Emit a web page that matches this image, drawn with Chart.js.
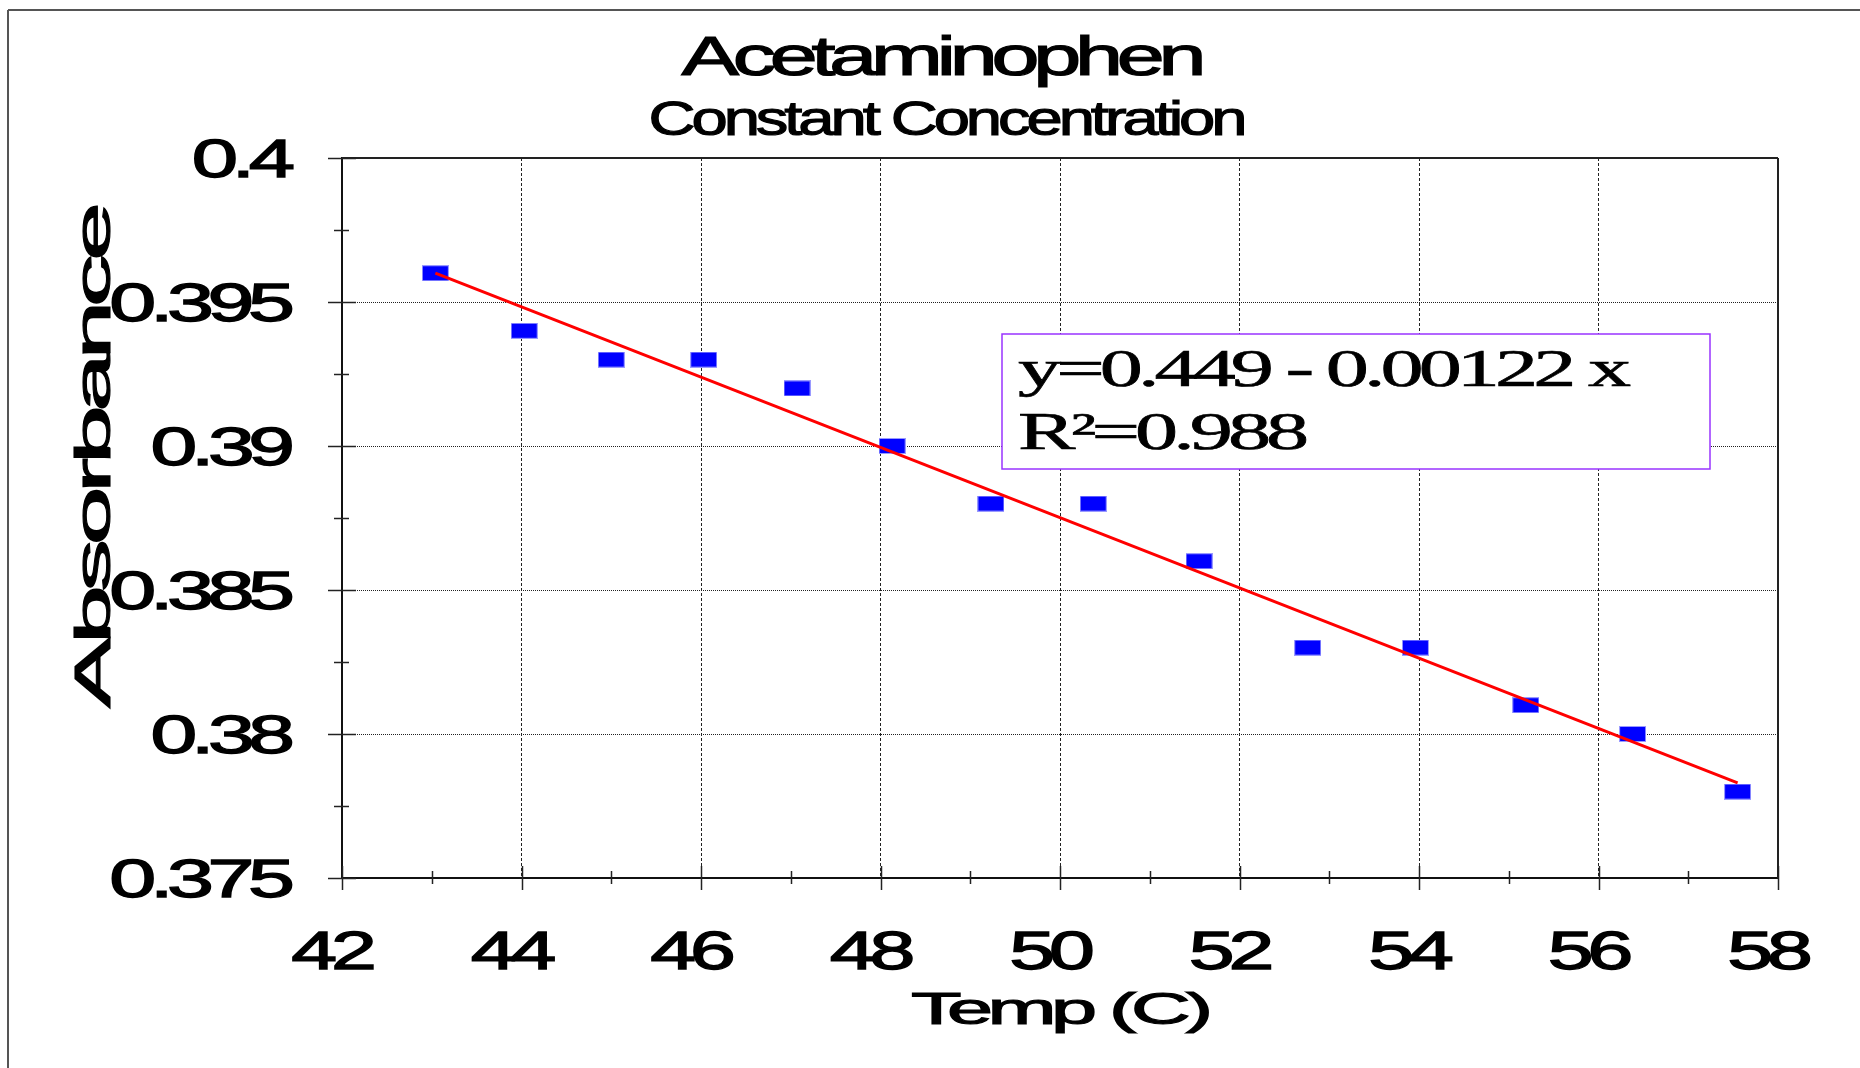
<!DOCTYPE html>
<html>
<head>
<meta charset="utf-8">
<title>Acetaminophen - Constant Concentration</title>
<script src="https://cdn.jsdelivr.net/npm/chart.js@4.4.0/dist/chart.umd.min.js"></script>
<style>
    html, body { margin: 0; padding: 0; background: #fff; }
    canvas { display: block; }
</style>
</head>
<body>
<canvas id="chart" width="1860" height="1068"></canvas>
<script>
// Textos del gráfico
const chartTitle = 'Acetaminophen';
const chartSubtitle = 'Constant Concentration';
const xAxisTitle = 'Temp (C)';
const yAxisTitle = 'Absorbance';

const tempC = [43.04, 44.03, 45.00, 46.03, 47.07, 48.13, 49.23, 50.37, 51.55, 52.76, 53.96, 55.19, 56.38, 57.55];
const absorbance = [0.396, 0.394, 0.393, 0.393, 0.392, 0.390, 0.388, 0.388, 0.386, 0.383, 0.383, 0.381, 0.380, 0.378];

// Recta de regresión: extremos
const fitTemp = [43.04, 57.55];
const fitAbs = [0.3960, 0.3783];
const fitIntercept = '0.449';
const fitSlope = '0.00122';
const rSquared = '0.988';

// Ejes
const xTicks = [42, 44, 46, 48, 50, 52, 54, 56, 58];
const xTickLabels = ['42', '44', '46', '48', '50', '52', '54', '56', '58'];
const xMinorTicks = [43, 45, 47, 49, 51, 53, 55, 57];
const yTicks = [0.375, 0.38, 0.385, 0.39, 0.395, 0.4];
const yTickLabels = ['0.375', '0.38', '0.385', '0.39', '0.395', '0.4'];
const yMinorTicks = [0.3775, 0.3825, 0.3875, 0.3925, 0.3975];

const SANS = '"Liberation Sans", Arial, sans-serif';
const SERIF = '"Liberation Serif", "Times New Roman", serif';

// Marcador rectangular azul
function makeMarker() {
    const c = document.createElement('canvas');
    c.width = 27;
    c.height = 16;
    const g = c.getContext('2d');
    g.fillStyle = '#9a9aff';
    g.fillRect(0, 0, 27, 16);
    g.fillStyle = '#0000ff';
    g.fillRect(1, 1, 25, 14);
    return c;
}

function textWidth(ctx, text, font, spacing) {
    ctx.save();
    ctx.font = font;
    ctx.letterSpacing = spacing + 'px';
    const w = ctx.measureText(text).width - spacing;
    ctx.restore();
    return w;
}

// Texto ancho y apretado como en el original: se escala a un ancho dado
function drawWide(ctx, text, x, y, font, align, width, spacing, weight, rotate) {
    const sx = width / textWidth(ctx, text, font, spacing);
    ctx.save();
    ctx.font = font;
    ctx.letterSpacing = spacing + 'px';
    ctx.textAlign = 'left';
    ctx.textBaseline = 'alphabetic';
    ctx.fillStyle = '#000';
    ctx.strokeStyle = '#000';
    ctx.lineWidth = weight;
    ctx.translate(x, y);
    if (rotate) ctx.rotate(-Math.PI / 2);
    let start = 0;
    if (align === 'center') start = -width / 2;
    if (align === 'right') start = -width;
    ctx.translate(start, 0);
    ctx.scale(sx, 1);
    ctx.fillText(text, 0, 0);
    if (weight > 0) ctx.strokeText(text, 0, 0);
    ctx.restore();
}

function line(ctx, x1, y1, x2, y2) {
    ctx.beginPath();
    ctx.moveTo(x1, y1);
    ctx.lineTo(x2, y2);
    ctx.stroke();
}

const decorPlugin = {
    id: 'decor',
    afterDraw(chart) {
        const ctx = chart.ctx;
        const area = chart.chartArea;
        const xs = chart.scales.x;
        const ys = chart.scales.y;

        // Marco exterior
        ctx.save();
        ctx.strokeStyle = '#555';
        ctx.lineWidth = 2;
        line(ctx, 8, 10, 1860, 10);
        line(ctx, 8, 10, 8, 1068);

        // Borde superior y derecho del área de datos
        ctx.strokeStyle = '#222';
        line(ctx, area.left, area.top, area.right, area.top);
        line(ctx, area.right, area.top, area.right, area.bottom);

        // Marcas de los ejes
        ctx.lineWidth = 1.5;
        yTicks.forEach(v => {
            const py = Math.round(ys.getPixelForValue(v)) + 0.5;
            line(ctx, area.left - 14, py, area.left + 14, py);
        });
        yMinorTicks.forEach(v => {
            const py = Math.round(ys.getPixelForValue(v)) + 0.5;
            line(ctx, area.left - 8, py, area.left + 7, py);
        });
        xTicks.forEach(v => {
            const px = Math.round(xs.getPixelForValue(v)) + 0.5;
            line(ctx, px, area.bottom - 12, px, area.bottom + 12);
        });
        xMinorTicks.forEach(v => {
            const px = Math.round(xs.getPixelForValue(v)) + 0.5;
            line(ctx, px, area.bottom - 7, px, area.bottom + 6);
        });
        ctx.restore();

        // Etiquetas de los ejes
        const tickFont = '53px ' + SANS;
        yTicks.forEach((v, i) => {
            const w = textWidth(ctx, yTickLabels[i], tickFont, 0) * 1.4;
            drawWide(ctx, yTickLabels[i], area.left - 47, ys.getPixelForValue(v) + 19, tickFont, 'right', w, -4, 1.3);
        });
        xTicks.forEach((v, i) => {
            const w = textWidth(ctx, xTickLabels[i], tickFont, 0) * 1.45;
            drawWide(ctx, xTickLabels[i], xs.getPixelForValue(v) - 8, area.bottom + 91, tickFont, 'center', w, -4, 1.3);
        });

        // Títulos
        drawWide(ctx, chartTitle, 944, 75, '56px ' + SANS, 'center', 525, -4, 1.2);
        drawWide(ctx, chartSubtitle, 948, 135, '48px ' + SANS, 'center', 599, -3, 1.1);
        drawWide(ctx, xAxisTitle, 1062, 1024, '45px ' + SANS, 'center', 302, -3, 1.1);
        drawWide(ctx, yAxisTitle, 110, 455, '50px ' + SANS, 'center', 506, -3, 1.1, true);

        // Cuadro con la ecuación
        ctx.save();
        ctx.fillStyle = '#fff';
        ctx.fillRect(1002, 334, 708, 135);
        ctx.strokeStyle = 'rgb(153, 51, 255)';
        ctx.lineWidth = 1.5;
        ctx.strokeRect(1002, 334, 708, 135);
        ctx.restore();
        const eqFont = '52px ' + SERIF;
        const eq1 = 'y=' + fitIntercept + ' - ' + fitSlope + ' x';
        const eq2 = 'R\u00B2=' + rSquared;
        const w1 = 613;
        const k = w1 / textWidth(ctx, eq1, eqFont, -3);
        drawWide(ctx, eq1, 1018, 386, eqFont, 'left', w1, -3, 0.6);
        drawWide(ctx, eq2, 1018, 449, eqFont, 'left', textWidth(ctx, eq2, eqFont, -3) * k, -3, 0.6);
    }
};

const ctx = document.getElementById('chart').getContext('2d');
const chart = new Chart(ctx, {
    type: 'scatter',
    data: {
        datasets: [
            {
                label: 'Ajuste',
                data: fitTemp.map((t, i) => ({ x: t, y: fitAbs[i] })),
                showLine: true,
                borderColor: '#ff0000',
                borderWidth: 3,
                pointRadius: 0,
                order: 1
            },
            {
                label: 'Absorbance',
                data: tempC.map((t, i) => ({ x: t, y: absorbance[i] })),
                pointStyle: makeMarker(),
                pointRadius: 10,
                order: 2
            }
        ]
    },
    options: {
        responsive: false,
        animation: false,
        layout: { padding: { left: 342, top: 158, right: 82, bottom: 190 } },
        plugins: {
            legend: { display: false },
            tooltip: { enabled: false },
            title: { display: false }
        },
        scales: {
            x: {
                type: 'linear',
                min: 42,
                max: 58,
                afterBuildTicks: axis => { axis.ticks = xTicks.map(v => ({ value: v })); },
                ticks: { display: false },
                grid: { color: '#222', lineWidth: 1, drawTicks: false },
                border: { display: true, color: '#111', width: 2, dash: [3, 2] }
            },
            y: {
                type: 'linear',
                min: 0.375,
                max: 0.4,
                afterBuildTicks: axis => { axis.ticks = yTicks.map(v => ({ value: v })); },
                ticks: { display: false },
                grid: { color: '#222', lineWidth: 1, drawTicks: false },
                border: { display: true, color: '#111', width: 2, dash: [1, 1] }
            }
        }
    },
    plugins: [decorPlugin]
});
</script>
</body>
</html>
